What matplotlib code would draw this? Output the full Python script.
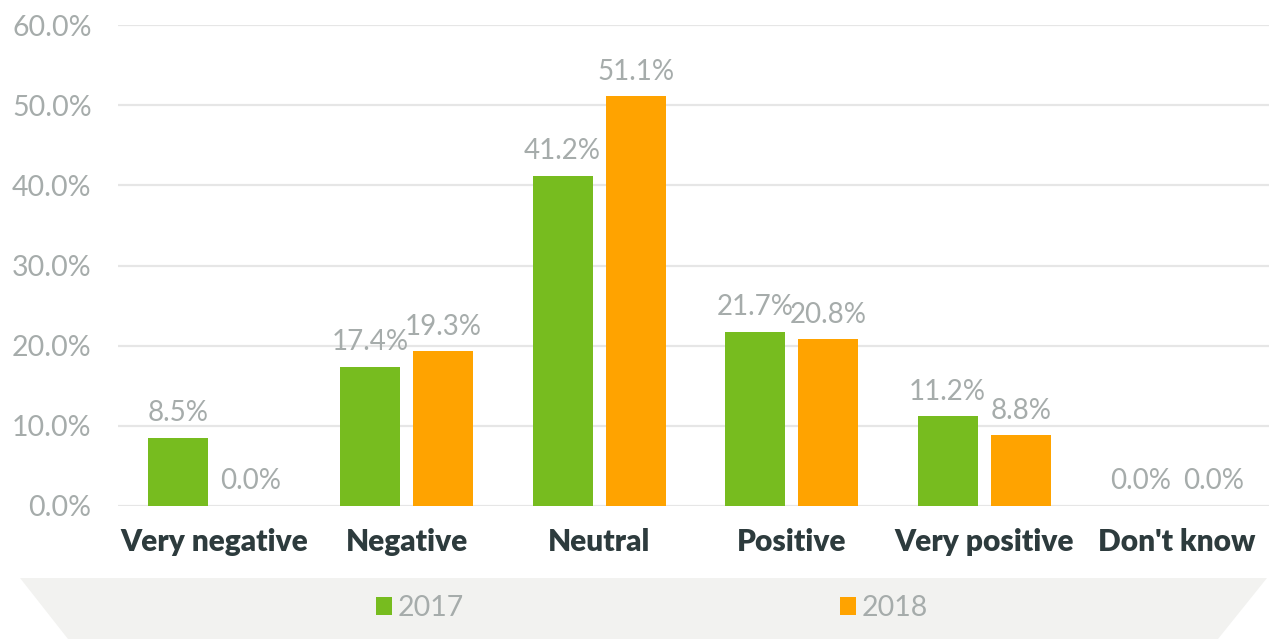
import matplotlib
matplotlib.use("Agg")
import matplotlib.pyplot as plt
from matplotlib.patches import Polygon
import numpy as np

categories = ["Very negative", "Negative", "Neutral", "Positive", "Very positive", "Don't know"]
series_names = ["2017", "2018"]
values_2017 = [8.5, 17.4, 41.2, 21.7, 11.2, 0.0]
values_2018 = [0.0, 19.3, 51.1, 20.8, 8.8, 0.0]
yticks = [0, 10, 20, 30, 40, 50, 60]

GREEN = "#77BC1F"
ORANGE = "#FFA300"
GRID = "#E6E6E6"
TICK = "#A6ACAB"
CAT = "#2D3B3D"

plt.rcParams["font.family"] = ["Lato", "DejaVu Sans"]

W, H = 1269, 639
fig = plt.figure(figsize=(12.69, 6.39), dpi=100)
ax = fig.add_axes([118 / W, 133 / H, (1273 - 118) / W, 481 / H])

x = np.arange(len(categories))
w = 0.312
off = 0.19
b1 = ax.bar(x - off, values_2017, w, color=GREEN, label=series_names[0], zorder=3)
b2 = ax.bar(x + off, values_2018, w, color=ORANGE, label=series_names[1], zorder=3)

for bars, vals in ((b1, values_2017), (b2, values_2018)):
    for rect, v in zip(bars, vals):
        ax.annotate(f"{v:.1f}%", (rect.get_x() + rect.get_width() / 2, v),
                    xytext=(0, 12), textcoords="offset points",
                    ha="center", va="baseline", fontsize=20, color=TICK)

ax.set_xlim(-0.5, len(categories) - 0.5)
ax.set_ylim(0, 60)
ax.set_yticks(yticks)
ax.set_yticklabels([f"{t:.1f}%" for t in yticks], fontsize=20.5, color=TICK)
ax.set_xticks(x)
ax.set_xticklabels(categories, fontsize=21.5, color=CAT, fontweight="heavy")
ax.tick_params(axis="y", length=0, pad=19)
ax.tick_params(axis="x", length=0, pad=16)
ax.grid(axis="y", color=GRID, linewidth=1.6, zorder=0)
for s in ax.spines.values():
    s.set_visible(False)

poly = Polygon([(20 / W, 1 - 578 / H), (1267 / W, 1 - 578 / H), (1218 / W, 0), (68 / W, 0)],
               closed=True, transform=fig.transFigure, facecolor="#F2F2F0",
               edgecolor="none", zorder=0)
fig.patches.append(poly)

leg = fig.legend(handles=[b1, b2], labels=series_names, loc="center",
                 bbox_to_anchor=(652 / W, 1 - 608 / H), ncol=2, frameon=False,
                 fontsize=20.5, handlelength=0.55, handleheight=0.55,
                 handletextpad=0.2, columnspacing=13.2)
for t in leg.get_texts():
    t.set_color(TICK)

fig.savefig("out.png", dpi=100)
